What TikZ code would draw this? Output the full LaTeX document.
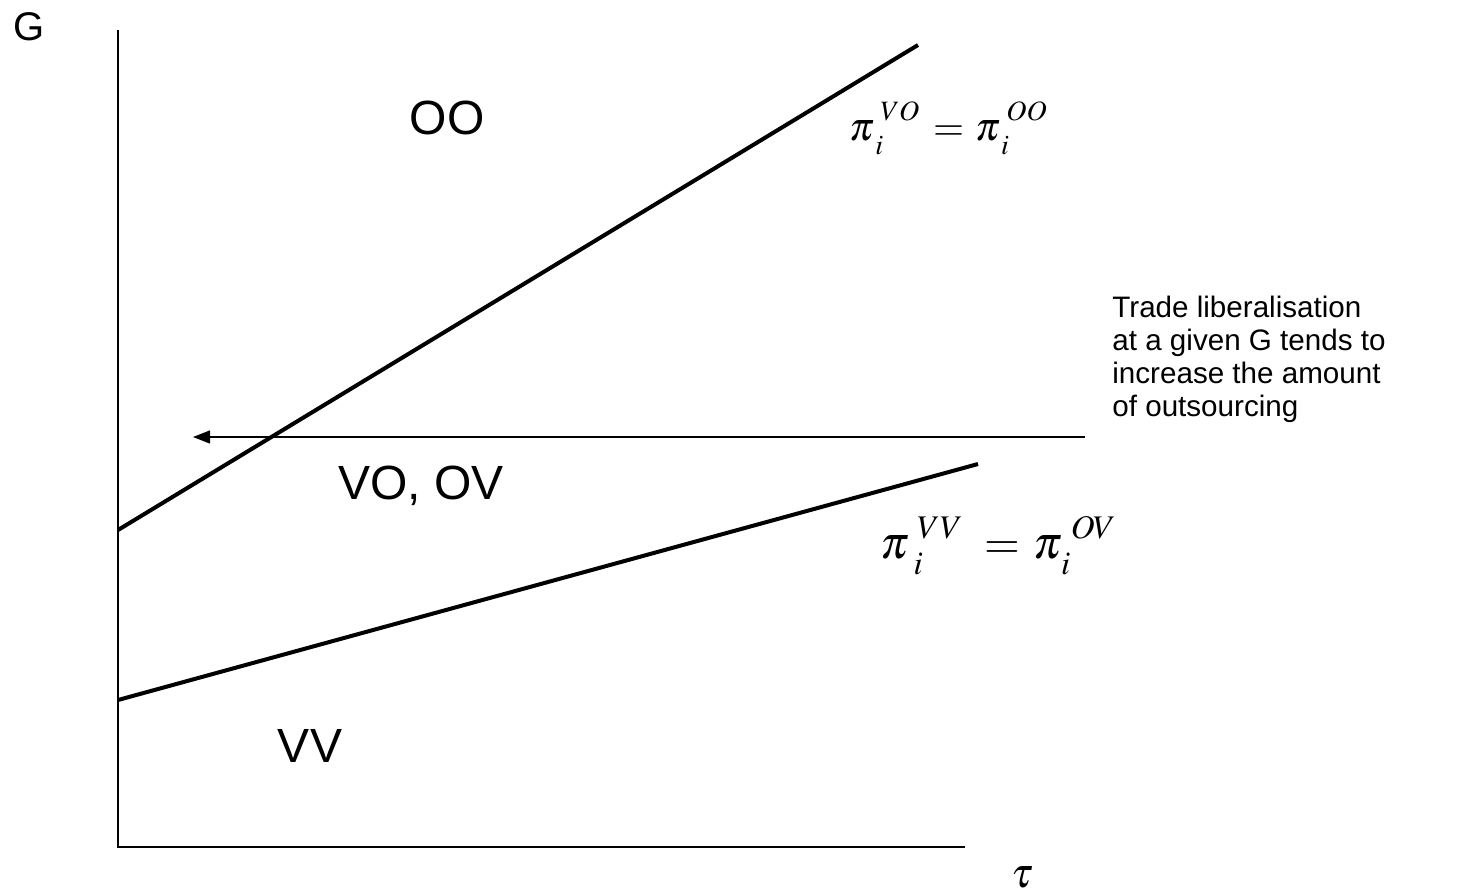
\documentclass[tikz,border=0pt]{standalone}
\usepackage{mathptmx}
\usepackage{fontspec}
\setmainfont{Liberation Sans}
\usetikzlibrary{arrows.meta}
\DeclareMathSizes{20}{20}{14}{10}
\DeclareMathSizes{23}{23}{16.5}{12}
% pi with raised superscript and lowered subscript
\newcommand{\piof}[5]{\pi^{\kern#3\raisebox{#4}{$\scriptstyle#1$}}_{\kern#5\raisebox{-2.5pt}{$\scriptstyle#2$}}}
\tikzset{
  axisline/.style={line width=0.8pt, draw=black},
  boundary/.style={line width=2pt, draw=black},
  shiftarrow/.style={-{Triangle[length=8.5pt, width=6.5pt]}, line width=0.65pt, draw=black},
  regionlab/.style={font=\fontsize{24}{28}\selectfont, anchor=base, inner sep=0pt},
  axislab/.style={inner sep=0pt},
  curvelab/.style={inner sep=0pt, anchor=base west},
  notelab/.style={font=\fontsize{14.8}{16.4}\selectfont, align=left,
    anchor=north west, inner sep=0pt},
}
\begin{document}
\begin{tikzpicture}[x=0.5pt, y=-0.5pt]
\useasboundingbox (0,0) rectangle (1471,895);
% axes
\coordinate (origin) at (118,847);
\coordinate (ytop) at (118,30);
\coordinate (xend) at (965,847);
\draw[axisline] (ytop) -- (origin) -- (xend);
\node[axislab, font=\fontsize{20}{24}\selectfont, anchor=base] (glab) at (29,40) {G};
\node[axislab, font=\fontsize{21}{24}\selectfont] (taulab) at (1022,877) {$\tau$};
% boundaries between the regimes
\coordinate (upA) at (118,530);
\coordinate (upB) at (918,45);
\coordinate (lowA) at (118,700);
\coordinate (lowB) at (978,464);
\draw[boundary] (upA) -- (upB);
\draw[boundary] (lowA) -- (lowB);
% regime labels
\node[regionlab] (oo) at (447,134) {OO};
\node[regionlab] (vo) at (421,499) {VO, OV};
\node[regionlab] (vv) at (310,762) {VV};
% indifference conditions
\node[curvelab, font=\fontsize{20}{24}\selectfont] (pivo) at (849,140)
  {$\piof{VO}{i}{3pt}{2.5pt}{2pt}\kern2pt=\kern1pt\piof{OO}{i}{3pt}{2.5pt}{2pt}$};
\node[curvelab, font=\fontsize{23}{28}\selectfont] (pivv) at (880,558)
  {$\piof{VV}{i}{4pt}{1.5pt}{4pt}\kern5pt=\kern2pt\piof{OV}{i}{4pt}{1.5pt}{1pt}$};
% trade liberalisation
\coordinate (arrowstart) at (1085,437);
\coordinate (arrowend) at (193,437);
\draw[shiftarrow] (arrowstart) -- (arrowend);
\node[notelab] (note) at (1112,296)
  {Trade liberalisation\\at a given G tends to\\increase the amount\\of outsourcing};
\end{tikzpicture}
\end{document}
